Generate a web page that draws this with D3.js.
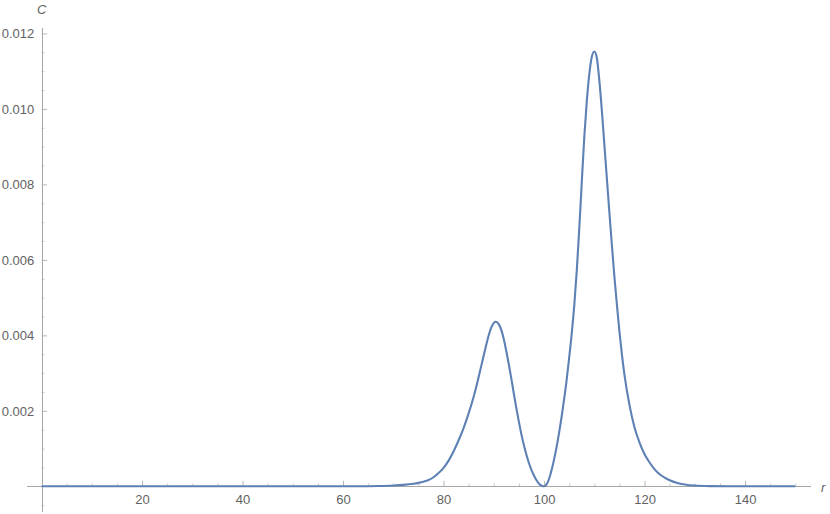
<!DOCTYPE html>
<html>
<head>
<meta charset="utf-8">
<script src="https://cdn.jsdelivr.net/npm/d3@7"></script>
<style>
  html, body { margin: 0; padding: 0; background: #fff; }
  svg { display: block; }
  .tick text { font-family: "Liberation Sans", Arial, sans-serif; }
</style>
</head>
<body>
<svg id="chart" width="830" height="514"></svg>
<script>
// ---- data ----
const rValues = [0, 20, 40, 60, 64, 67, 70, 72, 74, 75, 76, 77, 78, 79, 80, 81, 82, 83, 84, 85, 86, 87, 88, 89, 89.5, 90, 90.4,
  91, 91.5, 92, 92.5, 93, 93.5, 94, 94.5, 95, 95.5, 96, 96.5, 97, 97.5, 98, 98.5, 99, 99.5, 100,
  100.5, 101, 101.5, 102, 102.5, 103, 103.5, 104, 104.5, 105, 105.5, 106, 106.5, 107, 107.5, 108, 108.5, 109, 109.5, 110,
  110.5, 111, 111.5, 112, 112.5, 113, 113.5, 114, 114.5, 115, 115.5, 116, 117, 118, 119, 120, 121, 122, 123, 124, 125, 126.5, 128, 130, 133, 137, 150];
const cValues = [0, 0, 0, 0, 0.000002, 0.000007, 0.00002, 0.000037, 0.000068, 0.000091, 0.000123, 0.000167, 0.00024, 0.00035, 0.00049, 0.00068, 0.00093, 0.00122, 0.00155, 0.00194, 0.00238, 0.00291, 0.00347, 0.00401, 0.00421, 0.00433, 0.00436,
  0.00429, 0.00414, 0.00389, 0.00357, 0.00322, 0.00284, 0.00244, 0.00206, 0.00170, 0.00137, 0.00108, 0.00083, 0.00061, 0.00043, 0.00028, 0.00016, 0.00007, 0.00002, 0,
  0.00005, 0.00020, 0.00043, 0.00072, 0.00105, 0.00143, 0.00185, 0.00232, 0.00283, 0.00342, 0.00404, 0.00478, 0.00570, 0.00682, 0.00805, 0.00925, 0.01020, 0.01092, 0.01138, 0.01152,
  0.01135, 0.01075, 0.00995, 0.00905, 0.00815, 0.00725, 0.00638, 0.00555, 0.00480, 0.00410, 0.00348, 0.00295, 0.00215, 0.00156, 0.00116, 0.00085, 0.00063, 0.00045, 0.00032, 0.00023, 0.00016, 0.00009, 0.00005, 0.00002, 0.000005, 0, 0];
const xMajorTicks = [20, 40, 60, 80, 100, 120, 140];
const xMinorTicks = d3.range(5, 151, 5).filter(v => v % 20 !== 0);
const yMajorTicks = [0.002, 0.004, 0.006, 0.008, 0.010, 0.012];
const yMinorTicks = d3.range(-1, 25).map(i => i * 0.0005).filter(v => Math.abs(Math.round(v * 1e4) % 20) !== 0);
const xAxisLabel = "r";
const yAxisLabel = "C";

// ---- layout ----
const svg = d3.select("#chart");
const x = d3.scaleLinear().domain([-3, 153]).range([26.5, 810.4]);
const y = d3.scaleLinear().domain([-0.00067, 0.01217]).range([511.6, 27.0]);

const axisColor = "#a6a6a6";
const majorTickColor = "#b5b5b5";
const minorTickColor = "#c8c8c8";
const textColor = "#626262";
const fontSize = 13;

// x axis (at C = 0)
const gx = svg.append("g").attr("transform", `translate(0,${y(0)})`);
gx.append("g").call(d3.axisBottom(x).tickValues(xMinorTicks).tickSizeInner(-2.8).tickSizeOuter(0).tickFormat(""))
  .call(g => g.select(".domain").remove())
  .call(g => g.selectAll(".tick line").attr("stroke", minorTickColor));
gx.append("g").call(d3.axisBottom(x).tickValues(xMajorTicks).tickSizeInner(-5.5).tickSizeOuter(0).tickPadding(8.5).tickFormat(d3.format("d")))
  .call(g => g.select(".domain").attr("stroke", axisColor))
  .call(g => g.selectAll(".tick line").attr("stroke", majorTickColor))
  .call(g => g.selectAll(".tick text").attr("fill", textColor).attr("font-size", fontSize));

// y axis (at r = 0)
const gy = svg.append("g").attr("transform", `translate(${x(0)},0)`);
gy.append("g").call(d3.axisLeft(y).tickValues(yMinorTicks).tickSizeInner(-2.8).tickSizeOuter(0).tickFormat(""))
  .call(g => g.select(".domain").remove())
  .call(g => g.selectAll(".tick line").attr("stroke", minorTickColor));
gy.append("g").call(d3.axisLeft(y).tickValues(yMajorTicks).tickSizeInner(-5.5).tickSizeOuter(0).tickPadding(7.3).tickFormat(d3.format(".3f")))
  .call(g => g.select(".domain").attr("stroke", axisColor))
  .call(g => g.selectAll(".tick line").attr("stroke", majorTickColor))
  .call(g => g.selectAll(".tick text").attr("fill", textColor).attr("font-size", fontSize));

svg.selectAll(".domain").attr("shape-rendering", "crispEdges");

// axis labels
svg.append("text").attr("x", x(0)).attr("y", 14).attr("text-anchor", "middle")
  .attr("font-family", "Liberation Sans, Arial, sans-serif").attr("font-style", "italic")
  .attr("font-size", fontSize).attr("fill", textColor).text(yAxisLabel);
svg.append("text").attr("x", 821).attr("y", 491.5).attr("text-anchor", "start")
  .attr("font-family", "Liberation Sans, Arial, sans-serif").attr("font-style", "italic")
  .attr("font-size", fontSize).attr("fill", textColor).text(xAxisLabel);

// curve
const data = rValues.map((r, i) => ({ r, c: cValues[i] }));
const line = d3.line().x(d => x(d.r)).y(d => y(d.c)).curve(d3.curveMonotoneX);
svg.append("path").datum(data).attr("d", line)
  .attr("fill", "none").attr("stroke", "#5e81b5").attr("stroke-width", 2.1)
  .attr("stroke-linejoin", "round").attr("stroke-linecap", "butt");
</script>
</body>
</html>
